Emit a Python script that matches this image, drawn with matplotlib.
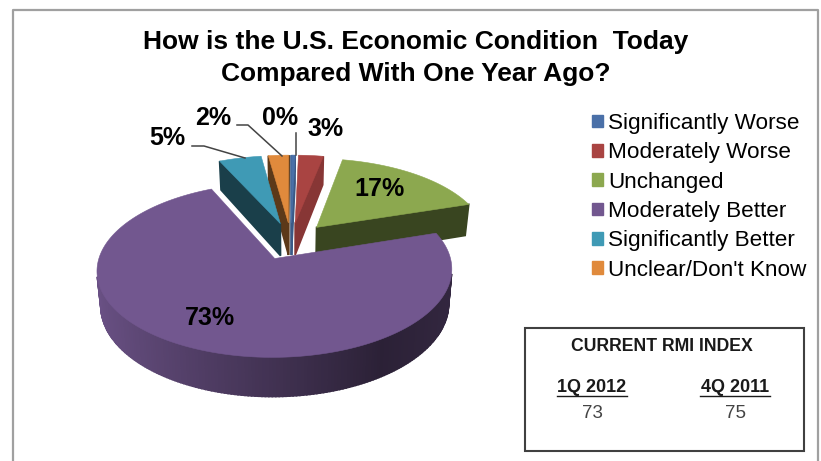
import matplotlib
matplotlib.use("Agg")
import matplotlib.pyplot as plt
from matplotlib.patches import Polygon, Patch, Rectangle
import numpy as np

plt.rcParams['font.family'] = ['Liberation Sans', 'DejaVu Sans']

# --- data ---
title_lines = ["How is the U.S. Economic Condition  Today", "Compared With One Year Ago?"]
categories = ["Significantly Worse", "Moderately Worse", "Unchanged",
              "Moderately Better", "Significantly Better", "Unclear/Don't Know"]
values = [0.4, 2.7, 16.9, 73.1, 4.6, 2.2]
index_title = "CURRENT RMI INDEX"
index_quarters = ["1Q 2012", "4Q 2011"]
index_values = [73, 75]

# --- style ---
colors = ['#4a70a8', '#a94442', '#8ca84f', '#72578f', '#3f9ab5', '#e08a3c']
cut_shade = [0.8, 0.8, 0.41, 0.41, 0.41, 0.41]
label_pos = [(280, 118), (326, 129), (380, 189), (210, 318), (167, 138), (213, 118)]
draw_order = [1, 0, 5, 4, 2, 3]

# fake perspective for the 3d pie, in pixels
CX, CY = 291, 241
A, B, K = 171, 81, 0.13
EXPLODE = 0.23
DEPTH = 33
BOTTOM_X = 0.98


def project(px, py):
    w = 1 + K * py
    return CX + A * px / w, CY - B * py / w


def drop(sx, sy, py):
    return CX + (sx - CX) * BOTTOM_X, sy + DEPTH / (1 + K * py)


def mix(color, f):
    return tuple(c * f for c in matplotlib.colors.to_rgb(color))


def rim_shade(px):
    return np.interp(px, [-1, 0.55, 1], [0.93, 0.38, 0.45])


def draw_slice(ax, start, end, color, cut):
    # angles are degrees clockwise from 12 o'clock
    mid = np.radians((start + end) / 2)
    ox, oy = EXPLODE * np.sin(mid), EXPLODE * np.cos(mid)
    ang = np.radians(np.arange(start, end, 1.0).tolist() + [end])
    px = np.r_[ox, ox + np.sin(ang)]
    py = np.r_[oy, oy + np.cos(ang)]
    sx, sy = project(px, py)
    bx, by = drop(sx, sy, py)
    n = len(px)
    for i in range(n):
        j = (i + 1) % n
        quad = [(sx[i], sy[i]), (sx[j], sy[j]), (bx[j], by[j]), (bx[i], by[i])]
        xs, ys = np.array(quad).T
        area = 0.5 * np.sum(xs * -np.roll(ys, -1) - np.roll(xs, -1) * -ys)
        if area <= 0:
            continue
        if i == 0 or j == 0:
            c = mix(color, cut)
        else:
            c = mix(color, rim_shade((px[i] + px[j]) / 2 - ox))
        ax.add_patch(Polygon(quad, closed=True, fc=c, ec=c, lw=1.2))
    ax.add_patch(Polygon(np.c_[sx, sy], closed=True, fc=color, ec=color, lw=0.4))


fig = plt.figure(figsize=(8.21, 4.61), dpi=100)
ax = fig.add_axes([0, 0, 1, 1])
ax.set_xlim(0, 821)
ax.set_ylim(461, 0)
ax.axis('off')

# outer chart frame
ax.plot([13, 13, 818, 818], [461, 10, 10, 461], color='#a0a0a0', lw=1.6)

for k, line in enumerate(title_lines):
    ax.text(416, 42 + 32 * k, line, ha='center', va='center', fontsize=19, fontweight='bold', color='black')

# slices
edges = np.r_[0, np.cumsum(values)] / np.sum(values) * 360
for i in draw_order:
    draw_slice(ax, edges[i], edges[i + 1], colors[i], cut_shade[i])

# leader lines
ax.plot([192, 204, 245], [146, 146, 158], color='#444444', lw=1.1)
ax.plot([237, 248, 282], [125, 125, 156], color='#444444', lw=1.1)
ax.plot([296, 296], [133, 155], color='#444444', lw=1.1)

for v, (x, y) in zip(values, label_pos):
    ax.text(x, y, f"{v:.0f}%", ha='center', va='center', fontsize=18, fontweight='bold', color='black')

handles = [Patch(fc=c, ec=c, label=n) for c, n in zip(colors, categories)]
ax.legend(handles=handles, loc='upper left', bbox_to_anchor=(592 / 821, 1 - 113 / 461), frameon=False,
          fontsize=16.2, handlelength=0.5, handleheight=0.5, handletextpad=0.2, labelspacing=0.37,
          borderpad=0, borderaxespad=0)

# RMI index box
ax.add_patch(Rectangle((525, 328), 279, 123, fc='white', ec='#404040', lw=1.5))
ax.text(662, 346, index_title, ha='center', va='center', fontsize=12.7, fontweight='bold', color='#1a1a1a')
for x, q, v in zip([592, 735], index_quarters, index_values):
    ax.text(x, 387, q, ha='center', va='center', fontsize=13, fontweight='bold', color='#1a1a1a')
    ax.plot([x - 35, x + 35], [396, 396], color='#1a1a1a', lw=1.0)
    ax.text(x, 413, str(v), ha='center', va='center', fontsize=13.5, color='#444444')

fig.savefig("out.png", dpi=100)
